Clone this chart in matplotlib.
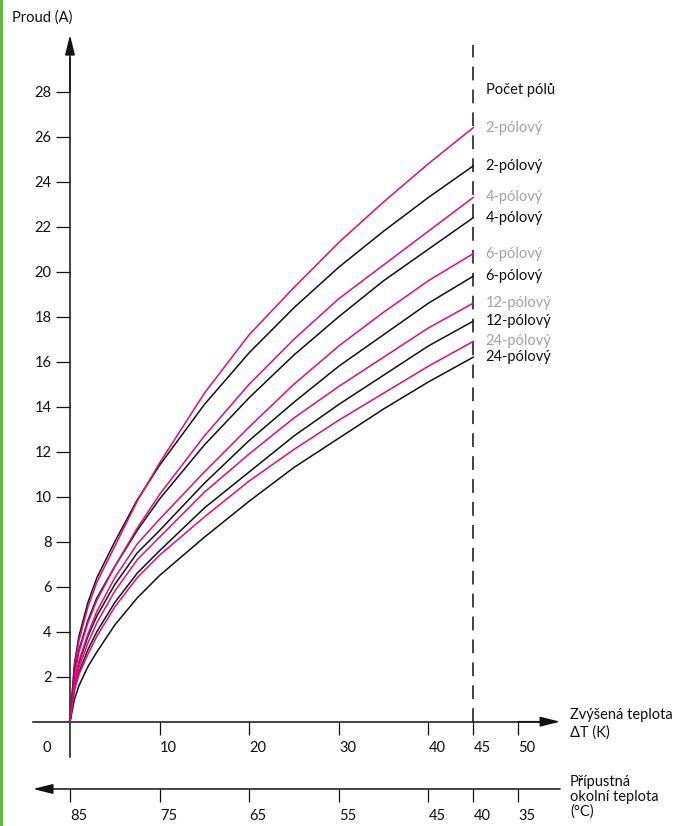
import matplotlib
matplotlib.use("Agg")
import matplotlib.pyplot as plt
from matplotlib.patches import Rectangle

# ── Data ─────────────────────────────────────────────────────────────────────
DT = [0, 0.5, 1, 2, 3, 5, 7.5, 10, 15, 20, 25, 30, 35, 40, 45]   # ΔT (K)

mag_2  = [0, 2.5, 3.6, 5.1, 6.2, 7.8, 9.8, 11.5, 14.6, 17.2, 19.3, 21.3, 23.1, 24.8, 26.4]
blk_2  = [0, 2.6, 3.8, 5.3, 6.4, 8.0, 9.85, 11.4, 14.1, 16.4, 18.4, 20.2, 21.8, 23.3, 24.7]
mag_4  = [0, 2.1, 3.1, 4.4, 5.4, 6.9, 8.6, 10.1, 12.7, 15.0, 17.0, 18.8, 20.3, 21.8, 23.3]
blk_4  = [0, 2.2, 3.2, 4.5, 5.5, 6.9, 8.5, 9.9, 12.3, 14.4, 16.3, 18.0, 19.6, 21.0, 22.4]
mag_6  = [0, 1.8, 2.7, 3.9, 4.9, 6.4, 7.9, 9.0, 11.1, 13.1, 15.0, 16.7, 18.2, 19.6, 20.8]
blk_6  = [0, 1.8, 2.6, 3.8, 4.7, 6.1, 7.5, 8.5, 10.6, 12.5, 14.2, 15.8, 17.2, 18.6, 19.8]
mag_12 = [0, 1.6, 2.4, 3.5, 4.4, 5.8, 7.2, 8.2, 10.2, 11.9, 13.5, 14.9, 16.2, 17.5, 18.6]
blk_12 = [0, 1.5, 2.2, 3.2, 4.0, 5.3, 6.6, 7.6, 9.5, 11.1, 12.7, 14.1, 15.4, 16.7, 17.8]
mag_24 = [0, 1.4, 2.1, 3.0, 3.8, 5.1, 6.4, 7.4, 9.1, 10.7, 12.1, 13.4, 14.6, 15.8, 16.9]
blk_24 = [0, 1.0, 1.6, 2.45, 3.1, 4.3, 5.5, 6.5, 8.2, 9.8, 11.3, 12.6, 13.9, 15.1, 16.2]

pole_labels = ["2-pólový", "4-pólový", "6-pólový", "12-pólový", "24-pólový"]
mag_series  = [mag_2, mag_4, mag_6, mag_12, mag_24]
blk_series  = [blk_2, blk_4, blk_6, blk_12, blk_24]

y_ticks    = list(range(2, 30, 2))
dt_ticks   = [10, 20, 30, 40, 45, 50]
amb_labels = [85, 75, 65, 55, 45, 40, 35]      # °C, ambient = 85 - ΔT
T_LIMIT    = 45

# ── Style ─────────────────────────────────────────────────────────────────────
MAGENTA = "#E5087E"
GREY    = "#A3A3A3"
INK     = "#111111"
FS      = 10.5
plt.rcParams["font.family"] = ["Lato", "DejaVu Sans"]

fig = plt.figure(figsize=(6.77, 8.26), dpi=100)
ax = fig.add_axes([0, 0, 1, 1])
ax.set_xlim(-7.8125, 67.746)
ax.set_ylim(-4.636, 32.076)
ax.patch.set_alpha(0)

# green edge strip on the left
fig.patches.append(Rectangle((0, 0), 2 / 677, 1, transform=fig.transFigure,
                             color="#63B946", zorder=0))

# ── Curves ────────────────────────────────────────────────────────────────────
for mag, blk in zip(mag_series, blk_series):
    ax.plot(DT, blk, color=INK, lw=1.1, zorder=3)
    ax.plot(DT, mag, color=MAGENTA, lw=1.1, zorder=3)

# ── Axes ──────────────────────────────────────────────────────────────────────
for s in ["top", "right"]:
    ax.spines[s].set_visible(False)
ax.spines["left"].set_position(("data", 0))
ax.spines["left"].set_bounds(-1.57, 29.5)
ax.spines["bottom"].set_position(("data", 0))
ax.spines["bottom"].set_bounds(-4.13, 54)
for s in ["left", "bottom"]:
    ax.spines[s].set_linewidth(1.1)
    ax.spines[s].set_color(INK)

ax.set_yticks(y_ticks)
ax.set_yticklabels([str(v) for v in y_ticks])
ax.set_xticks(dt_ticks)
ax.set_xticklabels([])
ax.tick_params(axis="y", direction="out", length=10, width=0.9, pad=3.4,
               labelsize=FS, colors=INK)
ax.tick_params(axis="x", direction="out", length=9.4, width=0.9, colors=INK)

arrow = dict(arrowstyle="-|>,head_length=1.2,head_width=0.3", lw=1.1,
             color=INK, shrinkA=0, shrinkB=0)
ax.annotate("", xy=(0, 30.52), xytext=(0, 28), arrowprops=arrow)
ax.annotate("", xy=(54.7, 0), xytext=(50, 0), arrowprops=arrow)

# ΔT tick labels (sit a little to the right of the ticks)
ax.text(-2.6, -1.17, "0", ha="center", va="center", fontsize=FS, color=INK)
for v in dt_ticks:
    ax.text(v + 1, -1.17, str(v), ha="center", va="center", fontsize=FS, color=INK)

# second axis: permissible ambient temperature
Y2 = -2.99
ax.annotate("", xy=(-4.13, Y2), xytext=(54.7, Y2), arrowprops=arrow)
amb_pos = [85 - a for a in amb_labels]
ax.vlines(amb_pos, Y2 - 0.58, Y2, color=INK, lw=0.9)
for p, a in zip(amb_pos, amb_labels):
    ax.text(p + 1, -4.19, str(a), ha="center", va="center", fontsize=FS, color=INK)

# limit line at ΔT = 45 K
ax.vlines(T_LIMIT, 0, 30.07, color=INK, lw=1.1, linestyles=(0, (9, 6)))

# ── Text ──────────────────────────────────────────────────────────────────────
ax.text(-6.47, 31.28, "Proud (A)", ha="left", va="center", fontsize=FS, color=INK)
ax.text(55.8, -0.10, "Zvýšená teplota\nΔT (K)", ha="left", va="center",
        fontsize=FS, color=INK, linespacing=1.25)
ax.text(55.8, -3.35, "Přípustná\nokolní teplota\n(°C)", ha="left", va="center",
        fontsize=FS, color=INK, linespacing=1.05)
ax.text(46.4, 28.08, "Počet pólů", ha="left", va="center", fontsize=FS, color=INK)

for lbl, mag, blk in zip(pole_labels, mag_series, blk_series):
    ax.text(46.4, mag[-1], lbl, ha="left", va="center", fontsize=FS, color=GREY)
    ax.text(46.4, blk[-1], lbl, ha="left", va="center", fontsize=FS, color=INK)

fig.savefig("out.png", dpi=100, facecolor="white")
